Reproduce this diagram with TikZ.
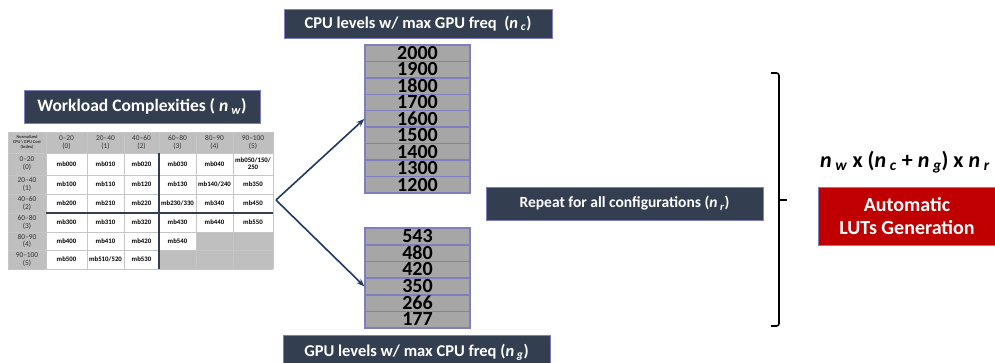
\documentclass[tikz,border=0pt]{standalone}
\usepackage{fontspec}
\setmainfont{Carlito}
\usetikzlibrary{arrows.meta}

\definecolor{slate}{HTML}{333F50}
\definecolor{lav}{HTML}{7F7FBF}
\definecolor{freqgray}{HTML}{A6A6A6}
\definecolor{navy}{HTML}{1F3864}
\definecolor{lutred}{HTML}{C00000}
\definecolor{cellgray}{HTML}{BFBFBF}

\newcommand{\sub}[1]{\,\textsubscript{\textit{#1}}}

\begin{document}
\begin{tikzpicture}[x=1pt,y=-1pt,
    titlebox/.style={draw=lav, line width=0.8pt, fill=slate, text=white, inner sep=0pt},
    freqbox/.style={draw=lav, line width=1.4pt, fill=freqgray, minimum width=105pt,
        minimum height=16.4pt, inner sep=0pt, text height=12.6pt, text depth=0pt,
        font=\fontsize{20}{20}\selectfont\bfseries},
    cell/.style={font=\fontsize{6.8}{7.2}\selectfont\bfseries, align=center, inner sep=0pt},
    hcell/.style={font=\fontsize{7.4}{7.8}\selectfont, align=center, inner sep=0pt, text=black!80},
    link/.style={-{Stealth[length=8pt,width=6pt]}, navy, line width=1.6pt}]

    \useasboundingbox (0,0) rectangle (995,362);

    % titles
    \node[titlebox, minimum width=268pt, minimum height=29pt, font=\fontsize{16.5}{16.5}\selectfont\bfseries]
        (cputitle) at (418,23.5) {CPU levels w/ max GPU freq~~(\textit{n}\sub{c})};
    \node[titlebox, minimum width=267pt, minimum height=35pt, font=\fontsize{16.5}{16.5}\selectfont\bfseries]
        (gputitle) at (416.5,352.5) {GPU levels w/ max CPU freq (\textit{n}\sub{g})};
    \node[titlebox, minimum width=236pt, minimum height=33pt, font=\fontsize{17.5}{17.5}\selectfont\bfseries]
        (wltitle) at (142,106.5) {Workload Complexities ( \textit{n}\sub{w})};

    % frequency levels
    \foreach \f [count=\i] in {2000,1900,1800,1700,1600,1500,1400,1300,1200}
        \node[freqbox] (cpu\i) at (417.5,{45+16.44*(\i-0.5)}) {\f};
    \foreach \f [count=\i] in {543,480,420,350,266,177}
        \node[freqbox] (gpu\i) at (417.5,{228+16.67*(\i-0.5)}) {\f};

    % table
    \fill[cellgray] (8,132) rectangle (273,153);
    \fill[cellgray] (8,153) rectangle (46,269);
    \fill[cellgray] (196,232) rectangle (273,250);
    \fill[cellgray] (159,250) rectangle (273,269);
    \foreach \x in {8,46,87,124,159,196,233,273}
        \draw[gray!45, line width=0.6pt] (\x,132) -- (\x,269);
    \foreach \y in {132,153,175,194,213,232,250,269}
        \draw[gray!45, line width=0.6pt] (8,\y) -- (273,\y);
    \draw[slate, line width=1.2pt] (159,153) -- (159,269);
    \draw[slate, line width=1.2pt] (46,213) -- (273,213);

    \node[hcell, font=\fontsize{4.4}{4.9}\selectfont\bfseries] (corner) at (27,142.5)
        {Normalized\\CPU\,\textbackslash\,GPU Cost\\(Index)};
    \foreach \t [count=\k from 0] in {0--20\\(0),20--40\\(1),40--60\\(2),60--80\\(3),80--90\\(4),90--100\\(5)}{
        \pgfmathsetmacro\cx{{66.5,105.5,141.5,177.5,214.5,253}[\k]}
        \pgfmathsetmacro\cy{{164,184.5,203.5,222.5,241,259.5}[\k]}
        \node[hcell] (colh\k) at (\cx,142.5) {\t};
        \node[hcell] (rowh\k) at (27,\cy) {\t};
    }
    \foreach \rw [count=\r from 0] in {
        {mb000,mb010,mb020,mb030,mb040,{mb050/150/\\250}},
        {mb100,mb110,mb120,mb130,mb140/240,mb350},
        {mb200,mb210,mb220,mb230/330,mb340,mb450},
        {mb300,mb310,mb320,mb430,mb440,mb550},
        {mb400,mb410,mb420,mb540},
        {mb500,mb510/520,mb530}}{
        \foreach \t [count=\c from 0] in \rw {
            \pgfmathsetmacro\cx{{66.5,105.5,141.5,177.5,214.5,253}[\c]}
            \pgfmathsetmacro\cy{{164,184.5,203.5,222.5,241,259.5}[\r]}
            \node[cell] (mb\r\c) at (\cx,\cy) {\t};
        }
    }

    % arrows
    \coordinate (split) at (276,200);
    \draw[link] (split) -- (cpu5.west);
    \draw[link] (split) -- (gpu4.west);

    \node[titlebox, minimum width=277pt, minimum height=33pt, font=\fontsize{15.5}{15.5}\selectfont\bfseries]
        (rep) at (624.5,203.5) {Repeat for all configurations (\textit{n}\sub{r})};

    % bracket
    \draw[line width=1.6pt, rounded corners=2.5pt] (771,73) -- (779,73) -- (779,326) -- (771,326);
    \draw[line width=1.6pt] (779,200) -- (787,200);

    \node[font=\fontsize{22}{22}\selectfont\bfseries, inner sep=0pt] (formula) at (905,162)
        {\textit{n}\sub{w} x (\textit{n}\sub{c} + \textit{n}\sub{g}) x \textit{n}\sub{r}};
    \node[draw=lav, fill=lutred, text=white, font=\fontsize{20}{23}\selectfont\bfseries, align=center,
        minimum width=178pt, minimum height=58pt, inner sep=0pt] (lut) at (907,216)
        {Automatic\\LUTs Generation};

\end{tikzpicture}
\end{document}
